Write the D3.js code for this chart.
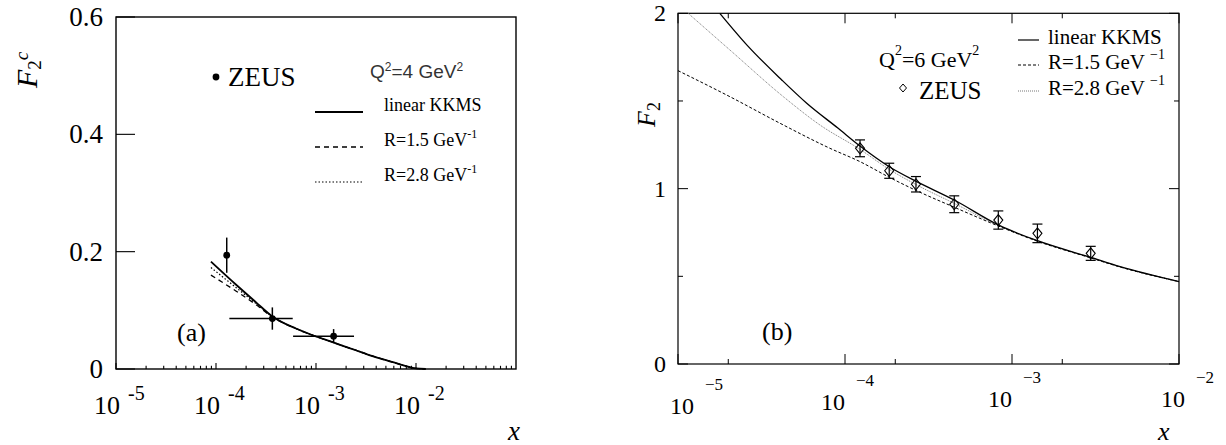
<!DOCTYPE html>
<html><head><meta charset="utf-8">
<script src="https://cdn.jsdelivr.net/npm/d3@7"></script>
<style>
html,body{margin:0;padding:0;background:#fff;}
svg{display:block;}
</style></head>
<body>
<svg id="c" width="1226" height="445" font-family="'Liberation Serif', 'DejaVu Serif', 'Noto Serif', Times, serif"></svg>
<script>
// ---------- Panel (a): F2c, Q^2 = 4 GeV^2 ----------
const aTickX = [1e-5, 1e-4, 1e-3, 1e-2];
const aTickXExp = ["-5", "-4", "-3", "-2"];
const aTickY = [0, 0.2, 0.4, 0.6];
const aTickYLabels = ["0", "0.2", "0.4", "0.6"];

const aZeusX = [1.28e-4, 3.66e-4, 1.5e-3];
const aZeusY = [0.194, 0.086, 0.056];
const aZeusYErr = [0.030, 0.019, 0.012];
const aZeusXLo = [null, 1.36e-4, 5.9e-4];
const aZeusXHi = [null, 5.85e-4, 2.4e-3];

const aCurveX = [8.9e-5, 1.58e-4, 2.5e-4, 3.63e-4, 6.3e-4, 9.1e-4, 1.51e-3, 1.86e-3, 2.5e-3, 3.2e-3, 4.7e-3, 6.9e-3, 1.0e-2, 1.25e-2];
const aLinear = [0.183, 0.144, 0.114, 0.090, 0.069, 0.058, 0.045, 0.0395, 0.032, 0.0255, 0.0165, 0.008, 0.001, 0.0];
const aR15    = [0.160, 0.133, 0.110, 0.089, 0.069, 0.058, 0.045, 0.0395, 0.032, 0.0255, 0.0165, 0.008, 0.001, 0.0];
const aR28    = [0.173, 0.139, 0.112, 0.090, 0.069, 0.058, 0.045, 0.0395, 0.032, 0.0255, 0.0165, 0.008, 0.001, 0.0];

// ---------- Panel (b): F2, Q^2 = 6 GeV^2 ----------
const bTickX = [1e-5, 1e-4, 1e-3, 1e-2];
const bTickXExp = ["\u22125", "\u22124", "\u22123", "\u22122"];
const bMinorX = [2e-5, 2e-4, 2e-3];
const bTickY = [0, 1, 2];
const bTickYLabels = ["0", "1", "2"];
const bMinorY = [0.5, 1.5];

const bZeusX = [1.23e-4, 1.84e-4, 2.66e-4, 4.51e-4, 8.28e-4, 1.42e-3, 2.96e-3];
const bZeusY = [1.230, 1.102, 1.025, 0.911, 0.821, 0.745, 0.631];
const bZeusErr = [0.048, 0.043, 0.044, 0.048, 0.052, 0.053, 0.040];

const bLinX = [1.78e-5, 2.64e-5, 4.18e-5, 5.9e-5, 9.1e-5, 1.23e-4, 1.84e-4, 2.69e-4, 4.51e-4, 8.28e-4, 1.42e-3, 2.96e-3, 4.44e-3, 1.0e-2];
const bLinY = [2.0, 1.81, 1.62, 1.487, 1.344, 1.243, 1.125, 1.04, 0.935, 0.793, 0.703, 0.608, 0.555, 0.47];
const bR15X = [1.0e-5, 2.05e-5, 4.08e-5, 8.13e-5, 1.23e-4, 1.84e-4, 2.69e-4, 4.51e-4, 8.28e-4, 1.42e-3, 2.96e-3, 4.44e-3, 1.0e-2];
const bR15Y = [1.673, 1.524, 1.373, 1.23, 1.154, 1.065, 0.988, 0.894, 0.787, 0.700, 0.605, 0.553, 0.47];
const bR28X = [1.15e-5, 2.05e-5, 4.28e-5, 7.08e-5, 1.23e-4, 1.84e-4, 2.69e-4, 4.51e-4, 8.28e-4, 1.42e-3, 2.96e-3, 4.44e-3, 1.0e-2];
const bR28Y = [2.0, 1.79, 1.524, 1.363, 1.224, 1.11, 1.021, 0.916, 0.79, 0.702, 0.607, 0.554, 0.47];

const svg = d3.select("#c");
const SANS = "'Liberation Sans', 'DejaVu Sans', Arial, sans-serif";

// =============== PANEL A =================
const xA = d3.scaleLog().domain([1e-5, 1e-1]).range([116, 516]);
const yA = d3.scaleLinear().domain([0, 0.6]).range([369, 17]);
const gA = svg.append("g");

gA.append("rect").attr("x", xA.range()[0]).attr("y", yA.range()[1])
  .attr("width", xA.range()[1] - xA.range()[0]).attr("height", yA.range()[0] - yA.range()[1])
  .attr("fill", "none").attr("stroke", "#000").attr("stroke-width", 1.4);

const aAllX = [];
for (let e = -5; e < -1; e++) for (let m = 1; m < 10; m++) aAllX.push(m * Math.pow(10, e));
gA.selectAll("line.axt").data(aAllX).join("line")
  .attr("x1", d => xA(d)).attr("x2", d => xA(d))
  .attr("y1", yA(0)).attr("y2", (d, i) => yA(0) - (i % 9 === 0 ? 6 : 3.2))
  .attr("stroke", "#000").attr("stroke-width", 1.1);
gA.selectAll("line.ayt").data(aTickY).join("line")
  .attr("x1", xA.range()[0]).attr("x2", xA.range()[0] + 19)
  .attr("y1", d => yA(d)).attr("y2", d => yA(d))
  .attr("stroke", "#000").attr("stroke-width", 1.1);
gA.selectAll("text.ayl").data(aTickY).join("text")
  .attr("x", 103).attr("y", d => yA(d) + 9).attr("text-anchor", "end")
  .attr("font-size", 27).text((d, i) => aTickYLabels[i]);
aTickX.forEach((v, i) => {
  const tx = xA(v);
  gA.append("text").attr("x", tx + 4).attr("y", 414).attr("text-anchor", "end")
    .attr("font-size", 26).text("10");
  gA.append("text").attr("x", tx + 12).attr("y", 400).attr("font-size", 20).text(aTickXExp[i]);
});
gA.append("text").attr("x", 508).attr("y", 440).attr("font-size", 27).attr("font-style", "italic").text("x");
const tA = gA.append("text").attr("transform", "translate(37,88) rotate(-90)").attr("font-size", 30);
tA.append("tspan").attr("font-style", "italic").text("F");
tA.append("tspan").attr("font-size", 19).attr("dy", 4).text("2");
tA.append("tspan").attr("font-size", 19).attr("font-style", "italic").attr("dy", -13).text("c");

const lineA = d3.line().x(d => xA(d[0])).y(d => yA(d[1])).curve(d3.curveMonotoneX);
gA.append("path").attr("d", lineA(aCurveX.map((x, i) => [x, aR28[i]])))
  .attr("fill", "none").attr("stroke", "#000").attr("stroke-width", 1.2).attr("stroke-dasharray", "1.5,2");
gA.append("path").attr("d", lineA(aCurveX.map((x, i) => [x, aR15[i]])))
  .attr("fill", "none").attr("stroke", "#000").attr("stroke-width", 1.3).attr("stroke-dasharray", "5,4");
gA.append("path").attr("d", lineA(aCurveX.map((x, i) => [x, aLinear[i]])))
  .attr("fill", "none").attr("stroke", "#000").attr("stroke-width", 1.8);

aZeusX.forEach((x, i) => {
  const cx = xA(x), cy = yA(aZeusY[i]);
  gA.append("line").attr("x1", cx).attr("x2", cx)
    .attr("y1", yA(aZeusY[i] + aZeusYErr[i])).attr("y2", yA(aZeusY[i] - aZeusYErr[i]))
    .attr("stroke", "#000").attr("stroke-width", 1.5);
  if (aZeusXLo[i] !== null) {
    gA.append("line").attr("x1", xA(aZeusXLo[i])).attr("x2", xA(aZeusXHi[i]))
      .attr("y1", cy).attr("y2", cy).attr("stroke", "#000").attr("stroke-width", 1.5);
  }
  gA.append("circle").attr("cx", cx).attr("cy", cy).attr("r", 3.4).attr("fill", "#000");
});

gA.append("circle").attr("cx", 216).attr("cy", 77).attr("r", 3.4).attr("fill", "#000");
gA.append("text").attr("x", 228).attr("y", 86).attr("font-size", 27).text("ZEUS");
const qA = gA.append("text").attr("x", 370).attr("y", 78).attr("font-size", 19)
  .attr("font-family", SANS).attr("fill", "#333");
qA.append("tspan").text("Q");
qA.append("tspan").attr("font-size", 12).attr("dy", -7).text("2");
qA.append("tspan").attr("dy", 7).text("=4 GeV");
qA.append("tspan").attr("font-size", 12).attr("dy", -7).text("2");

const legA = [
  {t: "linear KKMS", dash: null, w: 1.8, sup: null},
  {t: "R=1.5 GeV", dash: "5,4", w: 1.3, sup: "-1"},
  {t: "R=2.8 GeV", dash: "1.5,2", w: 1.2, sup: "-1"}
];
const legAY = [112, 147, 182];
legA.forEach((d, i) => {
  const y = legAY[i];
  const l = gA.append("line").attr("x1", 315).attr("x2", 363).attr("y1", y).attr("y2", y)
    .attr("stroke", "#000").attr("stroke-width", d.w);
  if (d.dash) l.attr("stroke-dasharray", d.dash);
  const t = gA.append("text").attr("x", 384).attr("y", y - 1).attr("font-size", 18);
  t.append("tspan").text(d.t);
  if (d.sup) t.append("tspan").attr("font-size", 12).attr("dy", -8).text(d.sup);
});
gA.append("text").attr("x", 177).attr("y", 341).attr("font-size", 26).text("(a)");

// =============== PANEL B =================
const xB = d3.scaleLog().domain([1e-5, 1e-2]).range([678, 1179]);
const yB = d3.scaleLinear().domain([0, 2]).range([364, 13.3]);
const gB = svg.append("g");

gB.append("rect").attr("x", xB.range()[0]).attr("y", yB.range()[1])
  .attr("width", xB.range()[1] - xB.range()[0]).attr("height", yB.range()[0] - yB.range()[1])
  .attr("fill", "none").attr("stroke", "#000").attr("stroke-width", 1.2);

const bx0 = xB.range()[0], bx1 = xB.range()[1], by0 = yB.range()[0], by1 = yB.range()[1];
const xTicksAll = bTickX.map(v => ({v, len: 10})).concat(bMinorX.map(v => ({v, len: 5})));
xTicksAll.forEach(t => {
  gB.append("line").attr("x1", xB(t.v)).attr("x2", xB(t.v)).attr("y1", by0).attr("y2", by0 - t.len)
    .attr("stroke", "#000").attr("stroke-width", 1);
  gB.append("line").attr("x1", xB(t.v)).attr("x2", xB(t.v)).attr("y1", by1).attr("y2", by1 + t.len)
    .attr("stroke", "#000").attr("stroke-width", 1);
});
const yTicksAll = bTickY.map(v => ({v, len: 10})).concat(bMinorY.map(v => ({v, len: 5})));
yTicksAll.forEach(t => {
  gB.append("line").attr("x1", bx0).attr("x2", bx0 + t.len).attr("y1", yB(t.v)).attr("y2", yB(t.v))
    .attr("stroke", "#000").attr("stroke-width", 1);
  gB.append("line").attr("x1", bx1).attr("x2", bx1 - t.len).attr("y1", yB(t.v)).attr("y2", yB(t.v))
    .attr("stroke", "#000").attr("stroke-width", 1);
});
gB.selectAll("text.byl").data(bTickY).join("text")
  .attr("x", 666).attr("y", d => yB(d) + 8).attr("text-anchor", "end")
  .attr("font-size", 24).text((d, i) => bTickYLabels[i]);
bTickX.forEach((v, i) => {
  const tx = xB(v) + (i === 0 ? 16 : (i === 3 ? 6 : 0));
  const base = i === 0 ? 414 : (i === 1 ? 410 : 407);
  gB.append("text").attr("x", tx).attr("y", base).attr("text-anchor", "end").attr("font-size", 24).text("10");
  gB.append("text").attr("x", tx + 11).attr("y", base - 24).attr("font-size", 17).text(bTickXExp[i]);
});
gB.append("text").attr("x", 1158).attr("y", 440).attr("font-size", 26).attr("font-style", "italic").text("x");
const tB = gB.append("text").attr("transform", "translate(655,127) rotate(-90)").attr("font-size", 26);
tB.append("tspan").attr("font-style", "italic").text("F");
tB.append("tspan").attr("font-size", 18).attr("dy", 5).text("2");

const lineB = d3.line().x(d => xB(d[0])).y(d => yB(d[1])).curve(d3.curveMonotoneX);
gB.append("path").attr("d", lineB(bR28X.map((x, i) => [x, bR28Y[i]])))
  .attr("fill", "none").attr("stroke", "#777").attr("stroke-width", 1).attr("stroke-dasharray", "1,1");
gB.append("path").attr("d", lineB(bR15X.map((x, i) => [x, bR15Y[i]])))
  .attr("fill", "none").attr("stroke", "#000").attr("stroke-width", 1).attr("stroke-dasharray", "3,2");
gB.append("path").attr("d", lineB(bLinX.map((x, i) => [x, bLinY[i]])))
  .attr("fill", "none").attr("stroke", "#000").attr("stroke-width", 1.3);

bZeusX.forEach((x, i) => {
  const cx = xB(x), cy = yB(bZeusY[i]);
  const yt = yB(bZeusY[i] + bZeusErr[i]), yb = yB(bZeusY[i] - bZeusErr[i]);
  gB.append("line").attr("x1", cx).attr("x2", cx).attr("y1", yt).attr("y2", yb).attr("stroke", "#000").attr("stroke-width", 1.2);
  [yt, yb].forEach(yy => gB.append("line").attr("x1", cx - 5).attr("x2", cx + 5).attr("y1", yy).attr("y2", yy)
    .attr("stroke", "#000").attr("stroke-width", 1.2));
  gB.append("path").attr("d", `M${cx},${cy - 5.5}L${cx + 4.5},${cy}L${cx},${cy + 5.5}L${cx - 4.5},${cy}Z`)
    .attr("fill", "none").attr("stroke", "#000").attr("stroke-width", 1.1);
});

const qB = gB.append("text").attr("x", 879).attr("y", 67).attr("font-size", 22);
qB.append("tspan").text("Q");
qB.append("tspan").attr("font-size", 14).attr("dy", -12).text("2");
qB.append("tspan").attr("dy", 12).text("=6 GeV");
qB.append("tspan").attr("font-size", 14).attr("dy", -12).text("2");
gB.append("path").attr("d", "M903,84L906.5,88L903,92L899.5,88Z").attr("fill", "none").attr("stroke", "#000").attr("stroke-width", 1);
gB.append("text").attr("x", 919).attr("y", 99).attr("font-size", 25).text("ZEUS");

const legB = [
  {t: "linear KKMS", dash: null, w: 1.2, col: "#000", sup: null},
  {t: "R=1.5 GeV", dash: "3,2", w: 1, col: "#000", sup: "\u22121"},
  {t: "R=2.8 GeV", dash: "1,1", w: 1, col: "#777", sup: "\u22121"}
];
const legBY = [40, 65, 91];
legB.forEach((d, i) => {
  const y = legBY[i];
  const l = gB.append("line").attr("x1", 1018).attr("x2", 1039).attr("y1", y).attr("y2", y)
    .attr("stroke", d.col).attr("stroke-width", d.w);
  if (d.dash) l.attr("stroke-dasharray", d.dash);
  const t = gB.append("text").attr("x", 1048).attr("y", y + 4).attr("font-size", 21);
  t.append("tspan").text(d.t);
  if (d.sup) t.append("tspan").attr("font-size", 14).attr("dx", 5).attr("dy", -10).text(d.sup);
});
gB.append("text").attr("x", 762).attr("y", 340).attr("font-size", 26).text("(b)");
</script>
</body></html>
